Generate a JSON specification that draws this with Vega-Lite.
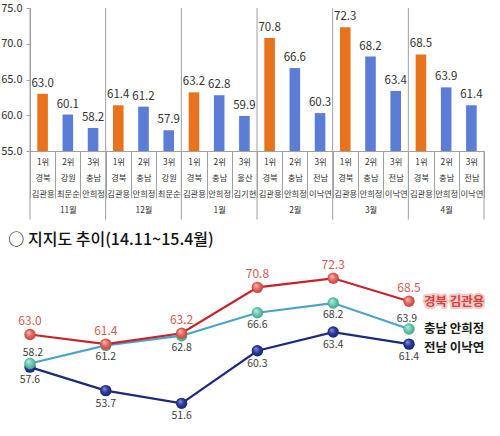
{
  "$schema": "https://vega.github.io/schema/vega-lite/v6.json",
  "background": "white",
  "padding": {"left": 0, "top": 2, "right": 0, "bottom": 0},
  "config": {
    "font": "Noto Sans CJK KR",
    "view": {"stroke": null},
    "axis": {"grid": false}
  },
  "datasets": {
    "ranks": [
      {"bar": "11월|1위|경북|김관용", "month": "11월", "rank": "1위", "value": 63.0},
      {"bar": "11월|2위|강원|최문순", "month": "11월", "rank": "2위", "value": 60.1},
      {"bar": "11월|3위|충남|안희정", "month": "11월", "rank": "3위", "value": 58.2},
      {"bar": "12월|1위|경북|김관용", "month": "12월", "rank": "1위", "value": 61.4},
      {"bar": "12월|2위|충남|안희정", "month": "12월", "rank": "2위", "value": 61.2},
      {"bar": "12월|3위|강원|최문순", "month": "12월", "rank": "3위", "value": 57.9},
      {"bar": "1월|1위|경북|김관용", "month": "1월", "rank": "1위", "value": 63.2},
      {"bar": "1월|2위|충남|안희정", "month": "1월", "rank": "2위", "value": 62.8},
      {"bar": "1월|3위|울산|김기현", "month": "1월", "rank": "3위", "value": 59.9},
      {"bar": "2월|1위|경북|김관용", "month": "2월", "rank": "1위", "value": 70.8},
      {"bar": "2월|2위|충남|안희정", "month": "2월", "rank": "2위", "value": 66.6},
      {"bar": "2월|3위|전남|이낙연", "month": "2월", "rank": "3위", "value": 60.3},
      {"bar": "3월|1위|경북|김관용", "month": "3월", "rank": "1위", "value": 72.3},
      {"bar": "3월|2위|충남|안희정", "month": "3월", "rank": "2위", "value": 68.2},
      {"bar": "3월|3위|전남|이낙연", "month": "3월", "rank": "3위", "value": 63.4},
      {"bar": "4월|1위|경북|김관용", "month": "4월", "rank": "1위", "value": 68.5},
      {"bar": "4월|2위|충남|안희정", "month": "4월", "rank": "2위", "value": 63.9},
      {"bar": "4월|3위|전남|이낙연", "month": "4월", "rank": "3위", "value": 61.4}
    ],
    "trend": [
      {"month": "11월", "name": "전남 이낙연", "value": 57.6},
      {"month": "12월", "name": "전남 이낙연", "value": 53.7},
      {"month": "1월", "name": "전남 이낙연", "value": 51.6},
      {"month": "2월", "name": "전남 이낙연", "value": 60.3},
      {"month": "3월", "name": "전남 이낙연", "value": 63.4},
      {"month": "4월", "name": "전남 이낙연", "value": 61.4},
      {"month": "11월", "name": "충남 안희정", "value": 58.2},
      {"month": "12월", "name": "충남 안희정", "value": 61.2},
      {"month": "1월", "name": "충남 안희정", "value": 62.8},
      {"month": "2월", "name": "충남 안희정", "value": 66.6},
      {"month": "3월", "name": "충남 안희정", "value": 68.2},
      {"month": "4월", "name": "충남 안희정", "value": 63.9},
      {"month": "11월", "name": "경북 김관용", "value": 63.0},
      {"month": "12월", "name": "경북 김관용", "value": 61.4},
      {"month": "1월", "name": "경북 김관용", "value": 63.2},
      {"month": "2월", "name": "경북 김관용", "value": 70.8},
      {"month": "3월", "name": "경북 김관용", "value": 72.3},
      {"month": "4월", "name": "경북 김관용", "value": 68.5}
    ]
  },
  "bounds": "flush",
  "spacing": 111,
  "resolve": {"scale": {"color": "independent"}},
  "vconcat": [
    {
      "width": 454,
      "height": 143,
      "data": {"name": "ranks"},
      "encoding": {
        "x": {
          "field": "bar",
          "type": "nominal",
          "sort": null,
          "scale": {"paddingInner": 0, "paddingOuter": 0},
          "axis": {
            "title": null,
            "labelAngle": 0,
            "labelFontSize": 8.3,
            "labelColor": "#333333",
            "labelLineHeight": 16,
            "labelPadding": -41,
            "labelBaseline": "top",
            "labelOverlap": false,
            "tickBand": "extent",
            "tickSize": 47,
            "tickColor": "#a0a0a0",
            "domainColor": "#a0a0a0",
            "labelExpr": "split(datum.value,'|')[1] == '2위' ? [split(datum.value,'|')[1], split(datum.value,'|')[2], split(datum.value,'|')[3], split(datum.value,'|')[0]] : [split(datum.value,'|')[1], split(datum.value,'|')[2], split(datum.value,'|')[3]]"
          }
        },
        "y": {
          "field": "value",
          "type": "quantitative",
          "scale": {"domain": [55, 75], "nice": false, "zero": false},
          "axis": {
            "title": null,
            "values": [55, 60, 65, 70, 75],
            "format": ".1f",
            "labelFontSize": 11,
            "labelColor": "#333333",
            "tickSize": 4,
            "labelPadding": 4,
            "tickColor": "#a0a0a0",
            "domainColor": "#a0a0a0"
          }
        }
      },
      "layer": [
        {
          "mark": {"type": "bar", "width": {"band": 0.42}},
          "encoding": {
            "y2": {"datum": 55},
            "color": {
              "field": "rank",
              "type": "nominal",
              "scale": {"domain": ["1위", "2위", "3위"], "range": ["#E8731C", "#5B7DD6", "#5B7DD6"]},
              "legend": null
            }
          }
        },
        {
          "mark": {"type": "text", "dy": -10, "fontSize": 11.5, "color": "#333333"},
          "encoding": {"text": {"field": "value", "type": "quantitative", "format": ".1f"}}
        },
        {
          "transform": [{"filter": "datum.rank == '1위'"}],
          "mark": {"type": "rule", "color": "#a0a0a0", "strokeWidth": 1},
          "encoding": {
            "x": {"field": "bar", "type": "nominal", "sort": null, "bandPosition": 0},
            "y": {"datum": 75},
            "y2": {"datum": 45.4}
          }
        },
        {
          "transform": [{"filter": "datum.bar == '4월|3위|전남|이낙연'"}],
          "mark": {"type": "rule", "color": "#a0a0a0", "strokeWidth": 1},
          "encoding": {
            "x": {"field": "bar", "type": "nominal", "sort": null, "bandPosition": 1},
            "y": {"datum": 55},
            "y2": {"datum": 45.4}
          }
        }
      ]
    },
    {
      "width": 379,
      "height": 151,
      "title": {
        "text": "○ 지지도 추이(14.11~15.4월)",
        "anchor": "start",
        "fontSize": 16,
        "fontWeight": 500,
        "color": "#111111",
        "dx": -10,
        "offset": 11
      },
      "data": {"name": "trend"},
      "encoding": {
        "x": {
          "field": "month",
          "type": "ordinal",
          "sort": null,
          "scale": {"type": "point", "padding": 0},
          "axis": null
        },
        "y": {
          "field": "value",
          "type": "quantitative",
          "scale": {"domain": [50, 75], "nice": false, "zero": false},
          "axis": null
        }
      },
      "layer": [
        {
          "mark": {"type": "line", "strokeWidth": 2.2},
          "encoding": {
            "color": {
              "field": "name",
              "type": "nominal",
              "scale": {
                "domain": ["전남 이낙연", "충남 안희정", "경북 김관용"],
                "range": ["#1B2A7C", "#4AA3C8", "#C8232B"]
              },
              "legend": null
            }
          }
        },
        {
          "transform": [{"filter": "datum.name == '전남 이낙연'"}],
          "mark": {
            "type": "point",
            "filled": true,
            "size": 130,
            "opacity": 1,
            "color": {
              "gradient": "radial",
              "x1": 0.35, "y1": 0.3, "r1": 0,
              "x2": 0.5, "y2": 0.5, "r2": 0.55,
              "stops": [
                {"offset": 0, "color": "#8f9be0"},
                {"offset": 0.5, "color": "#2C3C9E"},
                {"offset": 1, "color": "#16206a"}
              ]
            }
          }
        },
        {
          "transform": [{"filter": "datum.name == '충남 안희정'"}],
          "mark": {
            "type": "point",
            "filled": true,
            "size": 130,
            "opacity": 1,
            "color": {
              "gradient": "radial",
              "x1": 0.35, "y1": 0.3, "r1": 0,
              "x2": 0.5, "y2": 0.5, "r2": 0.55,
              "stops": [
                {"offset": 0, "color": "#c4efe2"},
                {"offset": 0.5, "color": "#6DCBB0"},
                {"offset": 1, "color": "#3f9c86"}
              ]
            }
          }
        },
        {
          "transform": [{"filter": "datum.name == '경북 김관용'"}],
          "mark": {
            "type": "point",
            "filled": true,
            "size": 130,
            "opacity": 1,
            "color": {
              "gradient": "radial",
              "x1": 0.35, "y1": 0.3, "r1": 0,
              "x2": 0.5, "y2": 0.5, "r2": 0.55,
              "stops": [
                {"offset": 0, "color": "#f7c0bb"},
                {"offset": 0.5, "color": "#E56B63"},
                {"offset": 1, "color": "#b8413b"}
              ]
            }
          }
        },
        {
          "transform": [{"filter": "datum.name == '경북 김관용'"}],
          "mark": {"type": "text", "dy": -13, "fontSize": 12, "color": "#D25C55"},
          "encoding": {"text": {"field": "value", "type": "quantitative", "format": ".1f"}}
        },
        {
          "transform": [{"filter": "datum.name == '충남 안희정' && datum.month != '11월' && datum.month != '4월'"}],
          "mark": {"type": "text", "dy": 12, "fontSize": 10.5, "color": "#404040"},
          "encoding": {"text": {"field": "value", "type": "quantitative", "format": ".1f"}}
        },
        {
          "transform": [{"filter": "datum.name == '충남 안희정' && datum.month == '11월'"}],
          "mark": {"type": "text", "dy": -10, "dx": 3, "fontSize": 10.5, "color": "#404040"},
          "encoding": {"text": {"field": "value", "type": "quantitative", "format": ".1f"}}
        },
        {
          "transform": [{"filter": "datum.name == '충남 안희정' && datum.month == '4월'"}],
          "mark": {"type": "text", "dy": -10, "dx": -2, "fontSize": 10.5, "color": "#404040"},
          "encoding": {"text": {"field": "value", "type": "quantitative", "format": ".1f"}}
        },
        {
          "transform": [{"filter": "datum.name == '전남 이낙연'"}],
          "mark": {"type": "text", "dy": 13, "fontSize": 10.5, "color": "#404040"},
          "encoding": {"text": {"field": "value", "type": "quantitative", "format": ".1f"}}
        },
        {
          "transform": [{"filter": "datum.name == '경북 김관용' && datum.month == '4월'"}],
          "mark": {"type": "text", "align": "left", "dx": 15, "dy": 1, "fontSize": 12.5, "fontWeight": "bold", "stroke": "#f3c9c9", "strokeWidth": 4, "strokeJoin": "round", "fill": "#f3c9c9"},
          "encoding": {"text": {"field": "name"}}
        },
        {
          "transform": [{"filter": "datum.name == '경북 김관용' && datum.month == '4월'"}],
          "mark": {"type": "text", "align": "left", "dx": 15, "dy": 1, "fontSize": 12.5, "fontWeight": "bold", "color": "#D2453F"},
          "encoding": {"text": {"field": "name"}}
        },
        {
          "transform": [{"filter": "datum.name == '충남 안희정' && datum.month == '4월'"}],
          "mark": {"type": "text", "align": "left", "dx": 15, "dy": 0, "fontSize": 12.5, "fontWeight": "bold", "color": "#1a1a1a"},
          "encoding": {"text": {"field": "name"}}
        },
        {
          "transform": [{"filter": "datum.name == '전남 이낙연' && datum.month == '4월'"}],
          "mark": {"type": "text", "align": "left", "dx": 15, "dy": 4, "fontSize": 12.5, "fontWeight": "bold", "color": "#1a1a1a"},
          "encoding": {"text": {"field": "name"}}
        }
      ]
    }
  ]
}
